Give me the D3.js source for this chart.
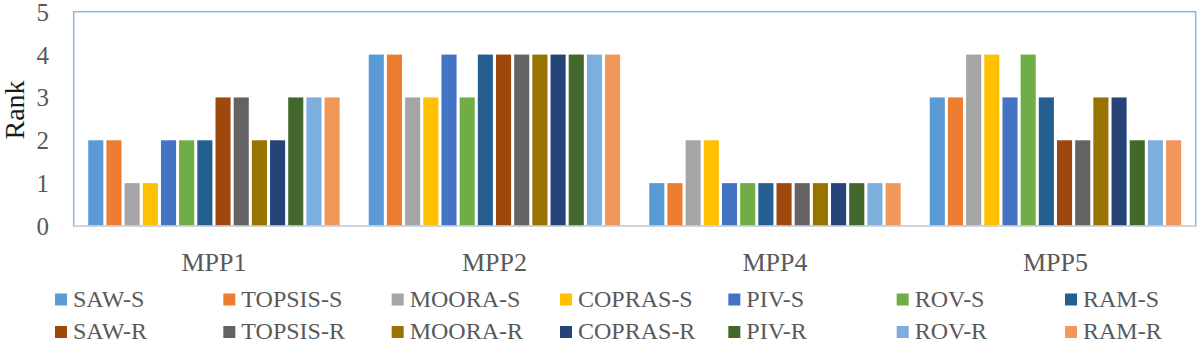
<!DOCTYPE html>
<html>
<head>
<meta charset="utf-8">
<script src="https://cdn.jsdelivr.net/npm/d3@7"></script>
<style>
  html, body { margin: 0; padding: 0; background: #fff; }
  svg { display: block; font-family: "Liberation Serif", "DejaVu Serif", serif; }
  svg text { font-family: "Liberation Serif", "DejaVu Serif", serif !important; fill: #595959; }
</style>
</head>
<body>
<svg id="chart" width="1200" height="343"></svg>
<script>
const categories = ["MPP1", "MPP2", "MPP4", "MPP5"];
const seriesNames = ["SAW-S", "TOPSIS-S", "MOORA-S", "COPRAS-S", "PIV-S", "ROV-S", "RAM-S",
                     "SAW-R", "TOPSIS-R", "MOORA-R", "COPRAS-R", "PIV-R", "ROV-R", "RAM-R"];
const seriesColors = ["#5B9BD5", "#ED7D31", "#A5A5A5", "#FFC000", "#4472C4", "#70AD47", "#255E91",
                      "#9E480E", "#636363", "#997300", "#264478", "#43682B", "#7CAFDD", "#F1975A"];
// values per category, one per series
const valuesMPP1 = [2, 2, 1, 1, 2, 2, 2, 3, 3, 2, 2, 3, 3, 3];
const valuesMPP2 = [4, 4, 3, 3, 4, 3, 4, 4, 4, 4, 4, 4, 4, 4];
const valuesMPP4 = [1, 1, 2, 2, 1, 1, 1, 1, 1, 1, 1, 1, 1, 1];
const valuesMPP5 = [3, 3, 4, 4, 3, 4, 3, 2, 2, 3, 3, 2, 2, 2];
const yTicks = [0, 1, 2, 3, 4, 5];
const yLabel = "Rank";

const allValues = [valuesMPP1, valuesMPP2, valuesMPP4, valuesMPP5];
const FONT = '"Liberation Serif", "DejaVu Serif", serif';

const svg = d3.select("#chart");
const plot = { left: 73.7, right: 1195.7, top: 11.7, bottom: 226 };

const x = d3.scaleBand().domain(categories).range([plot.left, plot.right]).padding(0);
const xi = d3.scaleBand().domain(seriesNames).range([0, x.bandwidth()])
  .paddingInner(0.17).paddingOuter(0.8);
const y = d3.scaleLinear().domain([0, 5]).range([plot.bottom, plot.top]);

// plot area border
svg.append("rect")
  .attr("x", plot.left).attr("y", plot.top)
  .attr("width", plot.right - plot.left).attr("height", plot.bottom - plot.top)
  .attr("fill", "none").attr("stroke", "#8DB6E2").attr("stroke-width", 1.5);

// bars
categories.forEach((cat, ci) => {
  const g = svg.append("g").attr("transform", `translate(${x(cat)},0)`);
  g.selectAll("rect").data(allValues[ci].map((v, si) => ({ v, s: seriesNames[si], c: seriesColors[si] })))
    .join("rect")
    .attr("x", d => xi(d.s))
    .attr("width", xi.bandwidth())
    .attr("y", d => y(d.v))
    .attr("height", d => y(0) - y(d.v))
    .attr("fill", d => d.c);
});

// x axis line
svg.append("line")
  .attr("x1", plot.left).attr("x2", plot.right)
  .attr("y1", y(0)).attr("y2", y(0))
  .attr("stroke", "#D9D9D9").attr("stroke-width", 1.5);

// y axis tick labels
const yAxis = d3.axisLeft(y).tickValues(yTicks).tickSize(0).tickPadding(0).tickFormat(d3.format("d"));
const yg = svg.append("g").attr("transform", "translate(49,0)").call(yAxis);
yg.attr("font-family", FONT).attr("font-size", 25);
yg.select(".domain").remove();
yg.selectAll("text").attr("font-family", FONT).attr("font-size", 25)
  .attr("fill", "#595959").attr("dy", "0.34em");

// x axis labels
const xAxis = d3.axisBottom(x).tickSize(0).tickPadding(0);
const xg = svg.append("g").call(xAxis);
xg.attr("font-family", FONT).attr("font-size", 26);
xg.select(".domain").remove();
xg.selectAll("text").attr("y", 271).attr("dy", null)
  .attr("font-family", FONT).attr("font-size", 26).attr("fill", "#595959");

// y label
svg.append("text")
  .attr("transform", "translate(24,110) rotate(-90)")
  .attr("text-anchor", "middle")
  .attr("font-family", FONT)
  .attr("font-size", 28)
  .style("fill", "#1a1a1a")
  .text(yLabel);

// legend
const legendX = d3.scalePoint().domain(d3.range(7)).range([55, 1065]);
const rowBaseline = [306.5, 339];
const leg = svg.append("g");
seriesNames.forEach((name, i) => {
  const col = i % 7, row = Math.floor(i / 7);
  const lx = legendX(col);
  const g = leg.append("g");
  g.append("rect")
    .attr("x", lx).attr("y", rowBaseline[row] - 13)
    .attr("width", 12).attr("height", 12)
    .attr("fill", seriesColors[i]);
  g.append("text")
    .attr("x", lx + 18).attr("y", rowBaseline[row])
    .attr("font-family", FONT)
    .attr("font-size", 24)
    .text(name);
});
</script>
</body>
</html>
